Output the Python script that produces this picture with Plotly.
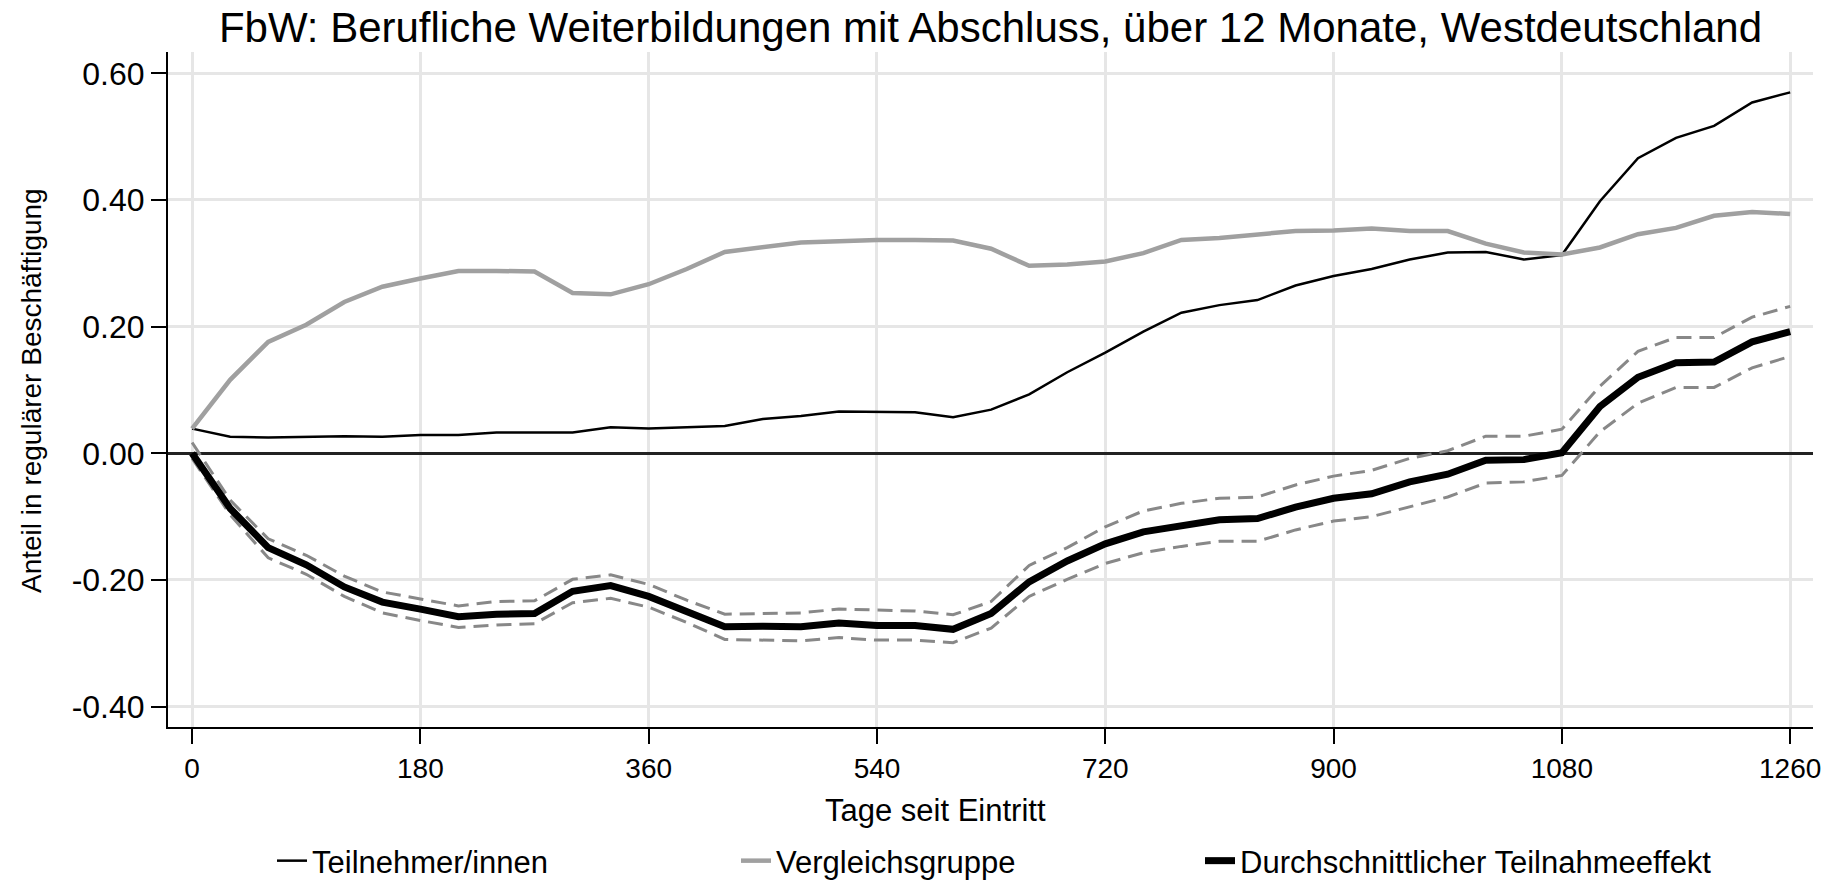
import plotly.graph_objects as go

days = [0, 30, 60, 90, 120, 150, 180, 210, 240, 270, 300, 330, 360, 390, 420,
        450, 480, 510, 540, 570, 600, 630, 660, 690, 720, 750, 780, 810, 840,
        870, 900, 930, 960, 990, 1020, 1050, 1080, 1110, 1140, 1170, 1200, 1230, 1260]

teilnehmer = [0.039, 0.026, 0.025, 0.026, 0.027, 0.026, 0.029, 0.029, 0.033, 0.033,
              0.033, 0.041, 0.039, 0.041, 0.043, 0.054, 0.059, 0.066, 0.066, 0.065,
              0.057, 0.069, 0.093, 0.128, 0.159, 0.192, 0.222, 0.234, 0.242, 0.265,
              0.280, 0.291, 0.306, 0.317, 0.318, 0.306, 0.313, 0.398, 0.466, 0.498,
              0.517, 0.554, 0.570]

vergleich = [0.039, 0.116, 0.176, 0.203, 0.239, 0.263, 0.276, 0.288, 0.288, 0.287,
             0.253, 0.251, 0.267, 0.291, 0.318, 0.325, 0.333, 0.335, 0.337, 0.337,
             0.336, 0.323, 0.296, 0.298, 0.303, 0.316, 0.337, 0.340, 0.345, 0.351,
             0.352, 0.355, 0.351, 0.351, 0.331, 0.317, 0.314, 0.325, 0.346, 0.356,
             0.375, 0.381, 0.378]

effekt = [0.000, -0.087, -0.149, -0.176, -0.211, -0.235, -0.246, -0.258, -0.254, -0.253,
          -0.218, -0.209, -0.226, -0.249, -0.274, -0.273, -0.274, -0.268, -0.272, -0.272,
          -0.278, -0.253, -0.203, -0.170, -0.143, -0.124, -0.114, -0.105, -0.103, -0.085,
          -0.071, -0.064, -0.045, -0.033, -0.011, -0.010, 0.001, 0.074, 0.120, 0.143,
          0.144, 0.176, 0.192]

ci_upper = [0.017, -0.074, -0.135, -0.161, -0.194, -0.219, -0.230, -0.241, -0.234, -0.233,
            -0.199, -0.192, -0.207, -0.232, -0.254, -0.253, -0.252, -0.246, -0.248, -0.249,
            -0.255, -0.234, -0.177, -0.149, -0.116, -0.091, -0.079, -0.071, -0.069, -0.050,
            -0.036, -0.027, -0.008, 0.004, 0.027, 0.027, 0.038, 0.106, 0.161, 0.183,
            0.183, 0.215, 0.232]

ci_lower = [-0.008, -0.097, -0.165, -0.191, -0.226, -0.252, -0.264, -0.275, -0.271, -0.269,
            -0.236, -0.229, -0.243, -0.267, -0.294, -0.295, -0.296, -0.291, -0.295, -0.295,
            -0.299, -0.276, -0.226, -0.199, -0.174, -0.157, -0.147, -0.139, -0.139, -0.121,
            -0.107, -0.100, -0.084, -0.069, -0.047, -0.045, -0.035, 0.034, 0.079, 0.104,
            0.104, 0.135, 0.153]

x_ticks = [0, 180, 360, 540, 720, 900, 1080, 1260]
y_ticks = [-0.4, -0.2, 0.0, 0.2, 0.4, 0.6]
y_ticktext = ["-0.40", "-0.20", "0.00", "0.20", "0.40", "0.60"]

title_text = "FbW: Berufliche Weiterbildungen mit Abschluss, über 12 Monate, Westdeutschland"
x_title = "Tage seit Eintritt"
y_title = "Anteil in regulärer Beschäftigung"

FONT = "Liberation Sans, Arial, sans-serif"

fig = go.Figure()
fig.add_trace(go.Scatter(x=days, y=ci_lower, mode="lines", showlegend=False,
                         line=dict(color="#888888", width=3, dash="15px,8px"), hoverinfo="skip"))
fig.add_trace(go.Scatter(x=days, y=ci_upper, mode="lines", showlegend=False,
                         line=dict(color="#888888", width=3, dash="15px,8px"), hoverinfo="skip"))
fig.add_trace(go.Scatter(x=days, y=teilnehmer, mode="lines", name="Teilnehmer/innen",
                         legendwidth=419, line=dict(color="#000000", width=2.5)))
fig.add_trace(go.Scatter(x=days, y=vergleich, mode="lines", name="Vergleichsgruppe",
                         legendwidth=419, line=dict(color="#a0a0a0", width=4.5)))
fig.add_trace(go.Scatter(x=days, y=effekt, mode="lines", name="Durchschnittlicher Teilnahmeeffekt",
                         legendwidth=520, line=dict(color="#000000", width=7)))

fig.update_layout(
    width=1837, height=880,
    margin=dict(l=168, r=24, t=52, b=153),
    paper_bgcolor="white", plot_bgcolor="white",
    font=dict(family=FONT, color="black", size=28),
    title=dict(text=title_text, x=(168 + 1813) / 2 / 1837, xanchor="center",
               y=1 - 27.5 / 880, yanchor="middle", yref="container",
               font=dict(size=42, family=FONT, color="black")),
    showlegend=True,
    legend=dict(orientation="h", xref="container", x=272 / 1837, xanchor="left",
                yref="container", y=(880 - 861) / 880, yanchor="middle",
                font=dict(size=31, family=FONT, color="black"),
                bgcolor="rgba(0,0,0,0)", borderwidth=0),
    xaxis=dict(range=[-19, 1278], tickvals=x_ticks, ticks="outside", ticklen=15,
               tickwidth=2, tickcolor="black", showline=True, linecolor="black",
               linewidth=2, showgrid=True, gridcolor="#e6e6e6", gridwidth=2.5,
               zeroline=False, tickfont=dict(size=28, family=FONT)),
    yaxis=dict(range=[-0.4322, 0.6337], tickvals=y_ticks, ticktext=y_ticktext,
               ticks="outside", ticklen=15, tickwidth=2, tickcolor="black",
               showline=True, linecolor="black", linewidth=2, showgrid=True,
               gridcolor="#e6e6e6", gridwidth=2.5, zeroline=True,
               zerolinecolor="#222222", zerolinewidth=2.5,
               tickfont=dict(size=32, family=FONT)),
    annotations=[
        dict(text=x_title, xref="paper", yref="paper", x=(935 - 168) / 1645,
             y=(727 - 810) / 675, xanchor="center", yanchor="middle", showarrow=False,
             font=dict(size=31, family=FONT, color="black")),
        dict(text=y_title, xref="paper", yref="paper", x=(31 - 168) / 1645,
             y=(727 - 391) / 675, xanchor="center", yanchor="middle", showarrow=False,
             textangle=-90, font=dict(size=28, family=FONT, color="black")),
    ],
)

fig.write_html("out.html", config={"displayModeBar": False},
               post_script="document.body.style.margin='0';")
